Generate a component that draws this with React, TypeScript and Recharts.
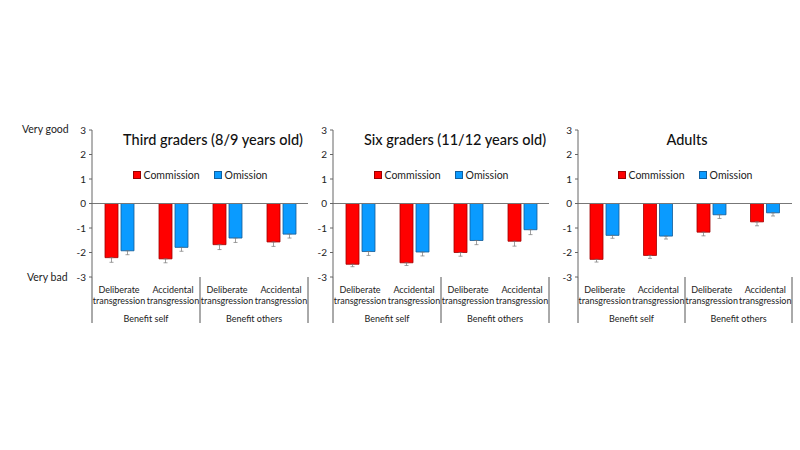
import { Bar, BarChart, ErrorBar, Legend, ReferenceLine, XAxis, YAxis } from "recharts";

const categories = ["Deliberate transgression", "Accidental transgression", "Deliberate transgression", "Accidental transgression"];
const groups = ["Benefit self", "Benefit others"];
const yTicks = [-3, -2, -1, 0, 1, 2, 3];

const thirdCommission = [-2.21, -2.26, -1.68, -1.57];
const thirdOmission = [-1.93, -1.79, -1.41, -1.25];
const thirdCommissionErr = [0.19, 0.16, 0.2, 0.18];
const thirdOmissionErr = [0.16, 0.16, 0.18, 0.16];

const sixthCommission = [-2.48, -2.42, -2.0, -1.54];
const sixthOmission = [-1.96, -1.98, -1.51, -1.07];
const sixthCommissionErr = [0.1, 0.11, 0.15, 0.2];
const sixthOmissionErr = [0.16, 0.16, 0.17, 0.2];

const adultCommission = [-2.28, -2.12, -1.17, -0.75];
const adultOmission = [-1.3, -1.33, -0.46, -0.38];
const adultCommissionErr = [0.11, 0.12, 0.15, 0.16];
const adultOmissionErr = [0.12, 0.12, 0.15, 0.13];

const FONT = "Lato, 'Open Sans', sans-serif";
const RED = "#ff0000";
const BLUE = "#0a9bff";

function buildData(com: number[], om: number[], comErr: number[], omErr: number[]) {
  return categories.map((c, i) => ({
    key: `c${i}`,
    commission: com[i],
    omission: om[i],
    comErr: [comErr[i], 0],
    omErr: [omErr[i], 0],
  }));
}

const makeTick = (bw: number) => (props: any) => {
  const { x, y, payload } = props;
  const i = payload.index;
  const [l1, l2] = categories[i].split(" ");
  const left = x - bw / 2;
  const right = x + bw / 2;
  return (
    <g>
      <text x={x} y={y + 16} textAnchor="middle" fontSize={9} fill="#222" fontFamily={FONT}>{l1}</text>
      <text x={x} y={y + 27} textAnchor="middle" fontSize={9} fill="#222" fontFamily={FONT}>{l2}</text>
      {i % 2 === 0 && (
        <>
          <line x1={left} x2={left} y1={y} y2={y + 46} stroke="#555" />
          <text x={right} y={y + 45} textAnchor="middle" fontSize={9} fill="#222" fontFamily={FONT}>{groups[i / 2]}</text>
        </>
      )}
      {i === 3 && <line x1={right} x2={right} y1={y} y2={y + 46} stroke="#555" />}
    </g>
  );
};

const legendContent = () => (
  <div style={{ display: "flex", justifyContent: "center", gap: 14, fontFamily: FONT, fontSize: 10.5, color: "#222" }}>
    {[["Commission", RED, "#9a0000"], ["Omission", BLUE, "#1060a0"]].map(([n, c, s]) => (
      <span key={n} style={{ display: "flex", alignItems: "center" }}>
        <span style={{ width: 6, height: 6, background: c, border: `1px solid ${s}`, marginRight: 3, display: "inline-block" }} />
        {n}
      </span>
    ))}
  </div>
);

function Panel({ left, width, mr, title, titleX, data }: { left: number; width: number; mr: number; title: string; titleX: number; data: any[] }) {
  const plotW = width - 12 - 20 - mr;
  return (
    <div style={{ position: "absolute", left, top: 0 }}>
      <BarChart width={width} height={450} data={data} margin={{ top: 130, right: mr, left: 12, bottom: 123 }} barSize={13} barGap={3}>
        <XAxis dataKey="key" axisLine={false} tickLine={false} tickSize={0} tickMargin={0} height={50} interval={0} tick={makeTick(plotW / 4)} />
        <YAxis domain={[-3, 3]} ticks={yTicks} width={20} tickSize={3} tickMargin={3} axisLine={{ stroke: "#666" }} tickLine={{ stroke: "#666" }} tick={{ fontSize: 10, fill: "#222", fontFamily: FONT }} />
        <ReferenceLine y={0} stroke="#777" />
        <Legend verticalAlign="middle" align="center" layout="horizontal" content={legendContent} wrapperStyle={{ top: 169, left: 32, width: plotW }} />
        <Bar dataKey="commission" fill={RED} stroke="#a00000" strokeWidth={0.8} isAnimationActive={false}>
          <ErrorBar dataKey="comErr" width={2} stroke="#777" strokeWidth={0.7} direction="y" />
        </Bar>
        <Bar dataKey="omission" fill={BLUE} stroke="#145a96" strokeWidth={0.8} isAnimationActive={false}>
          <ErrorBar dataKey="omErr" width={2} stroke="#777" strokeWidth={0.7} direction="y" />
        </Bar>
      </BarChart>
      <div style={{ position: "absolute", left: titleX, top: 131, transform: "translateX(-50%)", whiteSpace: "nowrap", fontFamily: FONT, fontSize: 14.5, color: "#111", fontWeight: 500 }}>{title}</div>
    </div>
  );
}

export default function App() {
  return (
    <div style={{ position: "absolute", left: 0, top: 0, width: 800, height: 450, background: "#fff" }}>
      <div style={{ position: "absolute", left: 22, top: 123, fontFamily: FONT, fontSize: 10.5, color: "#222" }}>Very good</div>
      <div style={{ position: "absolute", left: 27, top: 271, fontFamily: FONT, fontSize: 10.5, color: "#222" }}>Very bad</div>
      <Panel left={60} width={260} mr={12} title="Third graders (8/9 years old)" titleX={153} data={buildData(thirdCommission, thirdOmission, thirdCommissionErr, thirdOmissionErr)} />
      <Panel left={301} width={260} mr={12} title="Six graders (11/12 years old)" titleX={154} data={buildData(sixthCommission, sixthOmission, sixthCommissionErr, sixthOmissionErr)} />
      <Panel left={546} width={254} mr={8} title="Adults" titleX={141} data={buildData(adultCommission, adultOmission, adultCommissionErr, adultOmissionErr)} />
    </div>
  );
}
